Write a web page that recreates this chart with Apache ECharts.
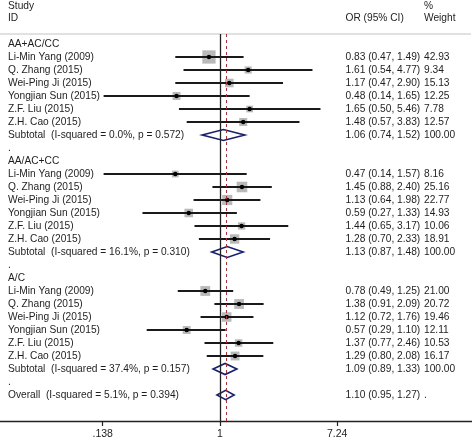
<!DOCTYPE html>
<html>
<head>
<meta charset="utf-8">
<script src="https://cdn.jsdelivr.net/npm/echarts@6/dist/echarts.min.js"></script>
<style>html,body{margin:0;padding:0;background:#fff}#c{width:472px;height:440px}</style>
</head>
<body>
<div id="c"></div>
<script>
const studies = ['Li-Min Yang (2009)','Q. Zhang (2015)','Wei-Ping Ji (2015)','Yongjian Sun (2015)','Z.F. Liu (2015)','Z.H. Cao (2015)'];
const groupNames = ['AA+AC/CC','AA/AC+CC','A/C'];

const orG1 = [0.83,1.61,1.17,0.48,1.65,1.48];
const loG1 = [0.47,0.54,0.47,0.14,0.50,0.57];
const hiG1 = [1.49,4.77,2.90,1.65,5.46,3.83];
const wG1  = [42.93,9.34,15.13,12.25,7.78,12.57];
const subG1 = [1.06,0.74,1.52];
const subLabelG1 = 'Subtotal  (I-squared = 0.0%, p = 0.572)';

const orG2 = [0.47,1.45,1.13,0.59,1.44,1.28];
const loG2 = [0.14,0.88,0.64,0.27,0.65,0.70];
const hiG2 = [1.57,2.40,1.98,1.33,3.17,2.33];
const wG2  = [8.16,25.16,22.77,14.93,10.06,18.91];
const subG2 = [1.13,0.87,1.48];
const subLabelG2 = 'Subtotal  (I-squared = 16.1%, p = 0.310)';

const orG3 = [0.78,1.38,1.12,0.57,1.37,1.29];
const loG3 = [0.49,0.91,0.72,0.29,0.77,0.80];
const hiG3 = [1.25,2.09,1.76,1.10,2.46,2.08];
const wG3  = [21.00,20.72,19.46,12.11,10.53,16.17];
const subG3 = [1.09,0.89,1.33];
const subLabelG3 = 'Subtotal  (I-squared = 37.4%, p = 0.157)';

const overall = [1.10,0.95,1.27];
const overallLabel = 'Overall  (I-squared = 5.1%, p = 0.394)';

const tickValues = [0.138, 1, 7.24];
const tickLabels = ['.138', '1', '7.24'];

// ---- build rows ----
const groups = [
  {or: orG1, lo: loG1, hi: hiG1, w: wG1, sub: subG1, label: subLabelG1},
  {or: orG2, lo: loG2, hi: hiG2, w: wG2, sub: subG2, label: subLabelG2},
  {or: orG3, lo: loG3, hi: hiG3, w: wG3, sub: subG3, label: subLabelG3}
];
const ln = Math.log;
const fmtCI = (e,l,h) => e.toFixed(2) + ' (' + l.toFixed(2) + ', ' + h.toFixed(2) + ')';
const markData = [];   // [lnEst, lnLo, lnHi, row, weight, kind]
const textRows = [];   // {row, label, ci, w}
let row = 0;
groups.forEach((g, gi) => {
  textRows.push({row: row, label: groupNames[gi], ci: '', w: ''});
  row++;
  studies.forEach((s, i) => {
    markData.push([ln(g.or[i]), ln(g.lo[i]), ln(g.hi[i]), row, g.w[i], 0]);
    textRows.push({row: row, label: s, ci: fmtCI(g.or[i], g.lo[i], g.hi[i]), w: g.w[i].toFixed(2)});
    row++;
  });
  markData.push([ln(g.sub[0]), ln(g.sub[1]), ln(g.sub[2]), row, 100, 1]);
  textRows.push({row: row, label: g.label, ci: fmtCI(g.sub[0], g.sub[1], g.sub[2]), w: '100.00'});
  row++;
  textRows.push({row: row, label: '.', ci: '', w: ''});
  row++;
});
markData.push([ln(overall[0]), ln(overall[1]), ln(overall[2]), row, 100, 2]);
textRows.push({row: row, label: overallLabel, ci: fmtCI(overall[0], overall[1], overall[2]), w: '.'});

const FONT = '10.2px "Liberation Sans", Arial, sans-serif';
const TXT = '#1e1e1e';

const chart = echarts.init(document.getElementById('c'), null, {renderer: 'canvas'});
const tickLn = tickValues.map(v => ln(v));

chart.setOption({
  animation: false,
  backgroundColor: '#fff',
  grid: {left: 0, right: 0, top: 34, bottom: 19, containLabel: false},
  xAxis: {
    type: 'value', min: -3.716, max: 4.257, position: 'bottom',
    splitLine: {show: false},
    axisLine: {show: true, onZero: false, lineStyle: {color: '#222', width: 1.3}},
    axisTick: {show: true, customValues: tickLn, length: 5, lineStyle: {color: '#222', width: 1.2}},
    axisLabel: {
      show: true, customValues: tickLn, margin: 8, color: TXT,
      fontSize: 10.5, fontFamily: '"Liberation Sans", Arial, sans-serif',
      formatter: function (v) {
        let best = 0, bd = Infinity;
        tickLn.forEach((t, i) => { const d = Math.abs(t - v); if (d < bd) { bd = d; best = i; } });
        return tickLabels[best];
      }
    }
  },
  yAxis: {type: 'value', inverse: true, min: -0.769, max: 29, show: false},
  graphic: [
    {type: 'line', shape: {x1: 0, y1: 34, x2: 471, y2: 34}, style: {stroke: '#c4c4c4', lineWidth: 1.2}},
    {type: 'text', x: 8, y: 6, style: {text: 'Study', font: FONT, fill: TXT, textVerticalAlign: 'middle'}},
    {type: 'text', x: 8, y: 18, style: {text: 'ID', font: FONT, fill: TXT, textVerticalAlign: 'middle'}},
    {type: 'text', x: 345.5, y: 18, style: {text: 'OR (95% CI)', font: FONT, fill: TXT, textVerticalAlign: 'middle'}},
    {type: 'text', x: 424, y: 6, style: {text: '%', font: FONT, fill: TXT, textVerticalAlign: 'middle'}},
    {type: 'text', x: 424, y: 18, style: {text: 'Weight', font: FONT, fill: TXT, textVerticalAlign: 'middle'}}
  ],
  series: [
    {
      type: 'line', data: [], silent: true,
      markLine: {
        silent: true, symbol: ['none', 'none'], label: {show: false},
        data: [
          {xAxis: 0, lineStyle: {color: '#222', type: 'solid', width: 1.3}},
          {xAxis: ln(overall[0]), lineStyle: {color: '#a2323c', type: [3, 3], width: 1}}
        ]
      }
    },
    {
      type: 'custom',
      data: markData,
      z: 3,
      renderItem: function (params, api) {
        const est = api.value(0), lo = api.value(1), hi = api.value(2), r = api.value(3), w = api.value(4), kind = api.value(5);
        const pE = api.coord([est, r]), pL = api.coord([lo, r]), pH = api.coord([hi, r]);
        if (kind === 0) {
          const s = 1.8 + 1.75 * Math.sqrt(w);
          return {type: 'group', children: [
            {type: 'rect', shape: {x: pE[0] - s / 2, y: pE[1] - s / 2, width: s, height: s}, style: {fill: '#b9b9b9'}},
            {type: 'line', shape: {x1: pL[0], y1: pE[1], x2: pH[0], y2: pE[1]}, style: {stroke: '#1a1a1a', lineWidth: 1.8}},
            {type: 'circle', shape: {cx: pE[0], cy: pE[1], r: 2.2}, style: {fill: '#000'}}
          ]};
        }
        const h = kind === 1 ? 5.5 : 4.6;
        return {type: 'polygon', shape: {points: [[pL[0], pE[1]], [pE[0], pE[1] - h], [pH[0], pE[1]], [pE[0], pE[1] + h]]},
          style: {fill: 'none', stroke: '#16206e', lineWidth: 1.6}};
      }
    },
    {
      type: 'custom',
      data: textRows.map(t => [0, t.row]),
      z: 4,
      renderItem: function (params, api) {
        const t = textRows[params.dataIndex];
        const y = api.coord([0, api.value(1)])[1];
        const children = [{type: 'text', style: {x: 8, y: y, text: t.label, font: FONT, fill: TXT, textVerticalAlign: 'middle'}}];
        if (t.ci) children.push({type: 'text', style: {x: 345.5, y: y, text: t.ci, font: FONT, fill: TXT, textVerticalAlign: 'middle'}});
        if (t.w) children.push({type: 'text', style: {x: 424, y: y, text: t.w, font: FONT, fill: TXT, textVerticalAlign: 'middle'}});
        return {type: 'group', children: children};
      }
    }
  ]
});
</script>
</body>
</html>
